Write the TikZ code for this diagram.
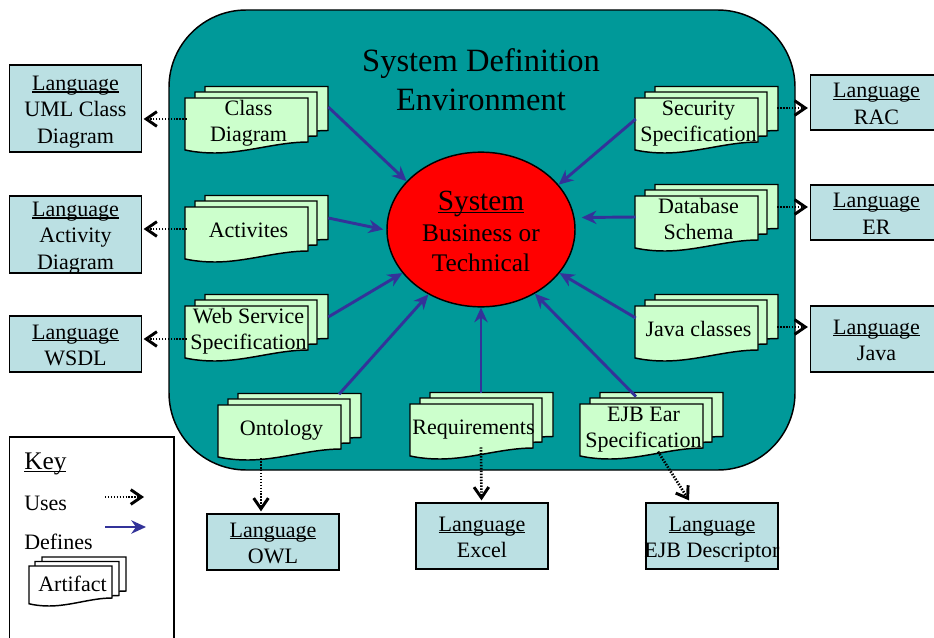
\documentclass[tikz,border=0pt]{standalone}
\usepackage{fontspec}
\setmainfont{Liberation Serif}
\usetikzlibrary{arrows.meta,calc,shapes.geometric}
\definecolor{tealbg}{HTML}{009999}
\definecolor{langfill}{HTML}{BBE0E3}
\definecolor{docfill}{HTML}{CCFFCC}
\definecolor{defblue}{HTML}{333399}
\newcommand{\ulword}[1]{\setbox0\hbox{#1}\rlap{\rule[-0.11em]{\wd0}{0.055em}}\box0}
\newcommand{\twolines}[2]{\rule{0pt}{15.5pt}#1\\#2\rule[-4.5pt]{0pt}{4.5pt}}
\newcommand{\oneline}[1]{\rule{0pt}{11pt}\rule[-.5pt]{0pt}{.5pt}\smash{#1}}
\newcommand{\sheet}[5]{%
  \draw[sheetline,fill=#5] (#1,#2) -- ({#1+#3},#2) -- ({#1+#3},{#2+#4})
    .. controls ({#1+.75*#3},{#2+#4}) and ({#1+.5*#3},{#2+1.25*#4}) .. ({#1+.24*#3},{#2+1.25*#4})
    .. controls ({#1+.15*#3},{#2+1.25*#4}) and ({#1+.06*#3},{#2+1.22*#4}) .. (#1,{#2+1.18*#4}) -- cycle;}
\newcommand{\docstack}[4]{%
  \sheet{#2+20}{#3-11.5}{123}{44}{docfill}
  \sheet{#2+10}{#3-6}{122}{44}{docfill}
  \sheet{#2}{#3}{123}{44}{docfill}
  \node[doctext] (#1) at ({#2+63.5},{#3+23}) {#4};}
\newcommand{\langbox}[6]{%
  \node[langstyle,minimum width=#4*.75pt,minimum height=#5*.75pt] (#1) at ({#2+#4/2},{#3+#5/2}) {\rule{0pt}{14pt}\ulword{Language}\\#6\rule[-1.5pt]{0pt}{1.5pt}};}
\tikzset{
  sheetline/.style={draw=black,line width=1.1pt,line join=miter},
  doctext/.style={inner sep=0pt,minimum width=92.25pt,minimum height=34.5pt,align=center,font=\fontsize{16.5}{19.5}\selectfont},
  langstyle/.style={draw=black,line width=.95pt,fill=langfill,inner sep=0pt,align=center,font=\fontsize{16.5}{20}\selectfont},
  usesarrow/.style={line width=2pt,dash pattern=on 1.1pt off 1.1pt,black,-{Straight Barb[length=8pt,width=11pt,line width=2.2pt]}},
  defarrow/.style={line width=2.2pt,defblue,-{Stealth[length=11pt,width=10pt,inset=3.5pt]}},
  keytext/.style={inner sep=0pt,anchor=west,font=\fontsize{16.5}{19.2}\selectfont}
}
\begin{document}
\begin{tikzpicture}[x=.75pt,y=-.75pt]
\useasboundingbox (0,0) rectangle (934,638);
\clip (0,0) rectangle (934,638);
% environment
\draw[line width=1.1pt,fill=tealbg,rounded corners=58pt] (169,10) rectangle (795,470);
\node[inner sep=0pt,align=center,font=\fontsize{24.4}{29.2}\selectfont] (title) at (481,80) {System Definition\\Environment};
% system
\node[ellipse,draw=black,line width=1.1pt,fill=red,inner sep=0pt,minimum width=141pt,minimum height=116pt,align=center] (sys) at (481,229.5) {};
\node[inner sep=0pt,align=center] (systxt) at (481,231) {\fontsize{22}{26}\selectfont\ulword{System}\\[5.5pt]\fontsize{19}{23.5}\selectfont Business or\\[7.5pt]\fontsize{19}{23.5}\selectfont Technical};
% artifacts
\docstack{class}{185}{98}{\twolines{Class}{Diagram}}
\docstack{activ}{185}{207}{\oneline{Activites}}
\docstack{web}{185}{306}{\twolines{Web Service}{Specification}}
\docstack{onto}{218}{405}{\oneline{Ontology}}
\docstack{req}{410}{404}{\oneline{Requirements}}
\docstack{ejb}{580}{404}{\twolines{EJB Ear}{Specification}}
\docstack{sec}{635}{98}{\twolines{Security}{Specification}}
\docstack{db}{635}{196}{\twolines{Database}{Schema}}
\docstack{java}{635}{306}{\oneline{Java classes}}
% languages
\langbox{luml}{9.5}{65}{132}{87}{UML Class\\\smash{Diagram}}
\langbox{lact}{9.5}{196}{132}{77}{Activity\\\smash{Diagram}}
\langbox{lwsdl}{9.5}{316}{132}{56}{WSDL}
\langbox{lrac}{810.5}{75}{132}{55}{RAC}
\langbox{ler}{810.5}{185}{132}{55}{ER}
\langbox{ljava}{810.5}{306}{132}{66}{\smash{Java}}
\langbox{lowl}{207}{514}{132}{56}{OWL}
\langbox{lexcel}{416}{503}{132}{66}{Excel}
\langbox{lejb}{646}{503}{132}{66}{\smash{\makebox[90pt][c]{EJB Descriptor}}}
% defines
\draw[defarrow] ([shift={(18,-14)}]class.east) -- (sys.147);
\draw[defarrow] ([shift={(18,-12)}]activ.east) -- ([shift={(-3,0)}]sys.west);
\draw[defarrow] ([shift={(18,-12)}]web.east) -- (sys.209);
\draw[defarrow] ([shift={(57.5,-57)}]onto.south) -- (sys.231);
\draw[defarrow] ([shift={(7.5,-57)}]req.south) -- (sys.270);
\draw[defarrow] ([shift={(-7.5,-57)}]ejb.south) -- (sys.310);
\draw[defarrow] ([shift={(-1,-11)}]java.west) -- (sys.331);
\draw[defarrow] ([shift={(-1,-2)}]db.west) -- ([shift={(6,-12)}]sys.east);
\draw[defarrow] ([shift={(-1,-2)}]sec.west) -- (sys.30);
% uses
\draw[usesarrow] ([shift={(0,-2)}]class.west) -- ([shift={(1.5,-2)}]luml.east |- class.west);
\draw[usesarrow] ([shift={(0,-1)}]activ.west) -- ([shift={(1.5,-1)}]lact.east |- activ.west);
\draw[usesarrow] ([shift={(0,10)}]web.west) -- ([shift={(1.5,10)}]lwsdl.east |- web.west);
\draw[usesarrow] ([shift={(17,-13)}]sec.east) -- ([shift={(-2,-13)}]lrac.west |- sec.east);
\draw[usesarrow] ([shift={(17,-12)}]db.east) -- ([shift={(-2,-12)}]ler.west |- db.east);
\draw[usesarrow] ([shift={(17,-2)}]java.east) -- ([shift={(-2,-2)}]ljava.west |- java.east);
\draw[usesarrow] ([shift={(-20.5,7)}]onto.south) -- ([shift={(-12,-2)}]lowl.north);
\draw[usesarrow] ([shift={(7.5,-3)}]req.south) -- ([shift={(-.5,-2)}]lexcel.north);
\draw[usesarrow] ([shift={(14.5,-2)}]ejb.south) -- ([shift={(-23,-2)}]lejb.north);
% key
\draw[line width=.95pt,fill=white] (9.5,437) rectangle (174,660);
\node[keytext,font=\fontsize{19}{22}\selectfont] (keytitle) at (24,464) {\ulword{Key}};
\node[keytext] (keyuses) at (24,503) {Uses};
\node[keytext] (keydefs) at (24,542) {Defines};
\coordinate (ku1) at (105,497); \coordinate (ku2) at (144,497);
\coordinate (kd1) at (105,527); \coordinate (kd2) at (146,527);
\draw[usesarrow] (ku1) -- (ku2);
\draw[defarrow] (kd1) -- (kd2);
\sheet{42}{557}{84}{34}{white}
\sheet{35}{561.5}{84}{34}{white}
\sheet{29}{566}{83}{32}{white}
\node[inner sep=0pt,font=\fontsize{16.5}{19.2}\selectfont] (keyart) at (72.5,584) {Artifact};
\end{tikzpicture}
\end{document}
